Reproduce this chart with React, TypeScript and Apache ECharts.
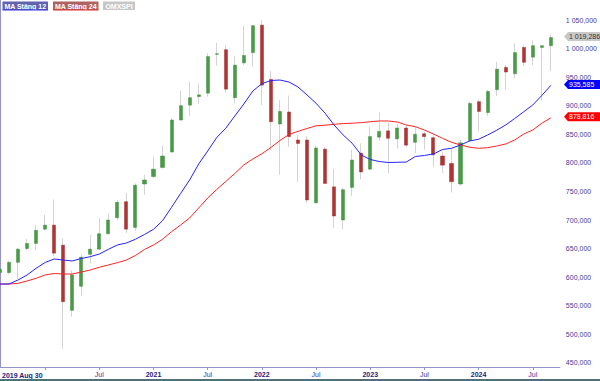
import React, { useEffect, useRef } from "react";
import * as echarts from "echarts";

// Monthly OMXSPI candles, index 0 = Jul 2019 ... index 61 = Aug 2024
const opens = [608, 608, 626, 650, 659, 684, 691, 656, 542, 584, 640, 649, 676, 704, 732, 687, 763, 776, 792, 819, 875, 901, 916, 922, 990, 998, 914, 975, 993, 1041, 946, 868, 889, 840, 840, 730, 824, 758, 700, 757, 817, 789, 845, 856, 842, 861, 836, 851, 844, 812, 799, 763, 839, 907, 888, 928, 967, 956, 1002, 985, 1002, 1005];
const highs = [616, 628, 651, 667, 691, 709, 736, 668, 612, 640, 674, 703, 712, 735, 747, 764, 779, 810, 830, 878, 926, 942, 938, 992, 1010, 1006, 987, 1040, 1041, 1050, 961, 910, 918, 849, 847, 830, 828, 789, 756, 823, 834, 863, 888, 870, 868, 866, 863, 855, 849, 820, 826, 840, 907, 911, 928, 977, 971, 1009, 1005, 1014, 1006, 1024];
const lows = [606, 605, 597, 647, 647, 682, 637, 475, 531, 567, 624, 647, 674, 700, 677, 681, 744, 773, 790, 818, 874, 882, 903, 916, 970, 923, 904, 971, 968, 901, 823, 779, 828, 767, 730, 729, 763, 686, 684, 742, 771, 788, 839, 782, 825, 828, 817, 823, 793, 782, 748, 760, 837, 856, 882, 917, 928, 948, 970, 971, 909, 961];
const closes = [614, 626, 649, 659, 682, 691, 642, 557, 604, 635, 649, 676, 700, 731, 684, 761, 770, 789, 812, 875, 900, 914, 919, 986, 991, 929, 971, 988, 1040, 936, 872, 890, 846, 834, 735, 826, 764, 707, 753, 805, 784, 846, 855, 843, 861, 831, 850, 846, 814, 796, 767, 835, 904, 890, 925, 964, 959, 993, 976, 1005, 1005, 1019.286];

// Moving averages
const ma12 = [588, 588, 595, 603.8, 615.5, 625.6, 631.8, 630, 628.3, 632.6, 635.8, 640.5, 648.7, 656.3, 659.8, 666.3, 674.6, 683.7, 698.8, 722.3, 746.4, 770, 798, 820.8, 844.4, 860.5, 882, 903, 925.8, 938.5, 944.1, 945, 941.5, 932.8, 918.8, 904.3, 886.8, 866.3, 848.8, 834.3, 813.8, 805.9, 802.4, 800.6, 801, 801.5, 811.1, 812.9, 815.5, 823.4, 825.5, 831.3, 838.3, 841.3, 848.8, 857, 866.3, 877.6, 889.5, 901.3, 917.9, 935.585];
const ma24 = [587.9, 588, 589.2, 593.3, 598, 603.8, 606.4, 605.5, 605.5, 609, 612.5, 617.3, 621.3, 625.3, 630, 637.9, 648.4, 656.3, 666.3, 679.5, 691.3, 703.5, 721, 738.5, 753.4, 767.4, 781.4, 796.3, 806.8, 815.9, 826.9, 839.1, 849.6, 855.2, 860.1, 864.9, 865.9, 867.5, 868.7, 869.4, 870.3, 872, 873.3, 873.3, 871.5, 866.3, 863.3, 857.5, 850.5, 843, 836, 831.3, 827.3, 825.5, 826.5, 829.5, 833, 840, 850.5, 857.5, 869.3, 878.816];

const xTickPositions = [5, 11, 17, 23, 29, 35, 41, 47, 53, 59];
const xLabelPositions = [11, 17, 23, 29, 35, 41, 47, 53, 59];
const xLabels = ["Jul", "2021", "Jul", "2022", "Jul", "2023", "Jul", "2024", "Jul"];
const xStartLabel = "2019 Aug 30";
const yTicks = [450, 500, 550, 600, 650, 700, 750, 800, 850, 900, 950, 1000, 1050];
const legendNames = ["MA Stäng 12", "MA Stäng 24", "OMXSPI"];

const FONT = "'Liberation Sans', Arial, sans-serif";

function fmtSv(v: number): string {
  const s = v.toFixed(3);
  const [i, f] = s.split(".");
  const withSpace = i.replace(/\B(?=(\d{3})+(?!\d))/g, " ");
  return withSpace + "," + f;
}

export default function App() {
  const ref = useRef<HTMLDivElement>(null);
  useEffect(() => {
    if (!ref.current) return;
    const chart = echarts.init(ref.current, undefined, { renderer: "svg" });
    const wickData = opens.map((o, i) => [i, o, closes[i], lows[i], highs[i]]);
    const bodyData = opens.map((o, i) => [i, o, closes[i], Math.min(o, closes[i]), Math.max(o, closes[i])]);
    chart.setOption({
      animation: false,
      backgroundColor: "#ffffff",
      grid: { left: 0, right: 37, top: 0, bottom: 14, containLabel: false },
      xAxis: {
        type: "value",
        min: 0,
        max: 62,
        axisLine: { show: true, lineStyle: { color: "#9494c8", width: 1 } },
        axisTick: { show: true, length: 3, lineStyle: { color: "#9494c8" }, customValues: xTickPositions },
        axisLabel: {
          customValues: xLabelPositions,
          margin: 4,
          fontSize: 7,
          fontFamily: FONT,
          formatter: (val: number) => {
            const k = xLabelPositions.indexOf(Math.round(val));
            if (k < 0) return "";
            const t = xLabels[k];
            return t === "Jul" ? `{n|${t}}` : `{b|${t}}`;
          },
          rich: {
            n: { fontSize: 7, fontFamily: FONT, color: "#3a3aa0" },
            b: { fontSize: 7, fontFamily: FONT, color: "#1c1c80", fontWeight: "bold" },
          },
        },
        splitLine: { show: false },
      },
      yAxis: {
        type: "value",
        position: "right",
        min: 442.75,
        max: 1085,
        axisLine: { show: true, lineStyle: { color: "#9494c8", width: 1 } },
        axisTick: { show: false },
        splitLine: { show: false },
        axisLabel: {
          customValues: yTicks,
          margin: 6,
          fontSize: 7,
          fontFamily: FONT,
          color: "#3c3c9c",
          formatter: (v: number) => fmtSv(v),
        },
      },
      series: [
        {
          type: "candlestick",
          name: "wick",
          data: wickData,
          encode: { x: 0, y: [1, 2, 3, 4] },
          barWidth: 1,
          itemStyle: { color: "#d4d4d4", color0: "#d4d4d4", borderColor: "#d4d4d4", borderColor0: "#d4d4d4", borderWidth: 1 },
          z: 2,
        },
        {
          type: "candlestick",
          name: "OMXSPI",
          data: bodyData,
          encode: { x: 0, y: [1, 2, 3, 4] },
          barWidth: 3.6,
          itemStyle: { color: "#4a9a48", color0: "#b03434", borderColor: "#3f8d3f", borderColor0: "#a22c2c", borderWidth: 0.5 },
          z: 3,
        },
        {
          type: "line",
          name: "MA Stäng 24",
          data: ma24.map((v, i) => [i, v]),
          symbol: "none",
          lineStyle: { color: "#ff2424", width: 1 },
          z: 4,
        },
        {
          type: "line",
          name: "MA Stäng 12",
          data: ma12.map((v, i) => [i, v]),
          symbol: "none",
          lineStyle: { color: "#2424ff", width: 1 },
          z: 5,
        },
      ],
    });

    const yPx = (v: number) => chart.convertToPixel({ yAxisIndex: 0 }, v) as number;
    const tag = (v: number, bg: string, fg: string) => {
      const y = yPx(v) - 1;
      return {
        type: "group",
        children: [
          {
            type: "polygon",
            shape: { points: [[564, y], [568, y - 4.5], [600, y - 4.5], [600, y + 4.5], [568, y + 4.5]] },
            style: { fill: bg },
          },
          {
            type: "text",
            x: 569,
            y: y,
            style: { text: fmtSv(v), fill: fg, fontSize: 7, fontFamily: FONT, verticalAlign: "middle", align: "left" },
          },
        ],
      };
    };
    const legendBox = (x: number, w: number, bg: string, line: string | null, text: string) => {
      const children: any[] = [
        { type: "rect", shape: { x, y: 1.5, width: w, height: 8.5 }, style: { fill: bg } },
        {
          type: "text",
          x: x + w / 2,
          y: 6,
          style: { text, fill: "#ffffff", fontSize: 7, fontWeight: "bold", fontFamily: FONT, align: "center", verticalAlign: "middle" },
        },
      ];
      if (line) children.push({ type: "line", shape: { x1: x, y1: 10, x2: x + w, y2: 10 }, style: { stroke: line, lineWidth: 1 } });
      return { type: "group", children };
    };
    chart.setOption({
      graphic: [
        legendBox(2.5, 45.5, "#6262b0", "#3434d8", legendNames[0]),
        legendBox(53, 45.5, "#b06262", "#e03030", legendNames[1]),
        legendBox(103, 32, "#c6c6c6", null, legendNames[2]),
        tag(closes[closes.length - 1], "#c8c8c8", "#333333"),
        tag(ma12[ma12.length - 1], "#0000ff", "#ffffff"),
        tag(ma24[ma24.length - 1], "#ff0000", "#ffffff"),
        {
          type: "text",
          x: 2,
          y: 375,
          style: { text: xStartLabel, fill: "#1c1c80", fontSize: 7, fontWeight: "bold", fontFamily: FONT, verticalAlign: "middle", align: "left" },
        },
        { type: "rect", shape: { x: 0, y: 379, width: 600, height: 2 }, style: { fill: "#50707a" } },
      ],
    });
    return () => chart.dispose();
  }, []);
  return <div ref={ref} style={{ position: "fixed", left: 0, top: 0, width: 600, height: 381 }} />;
}
